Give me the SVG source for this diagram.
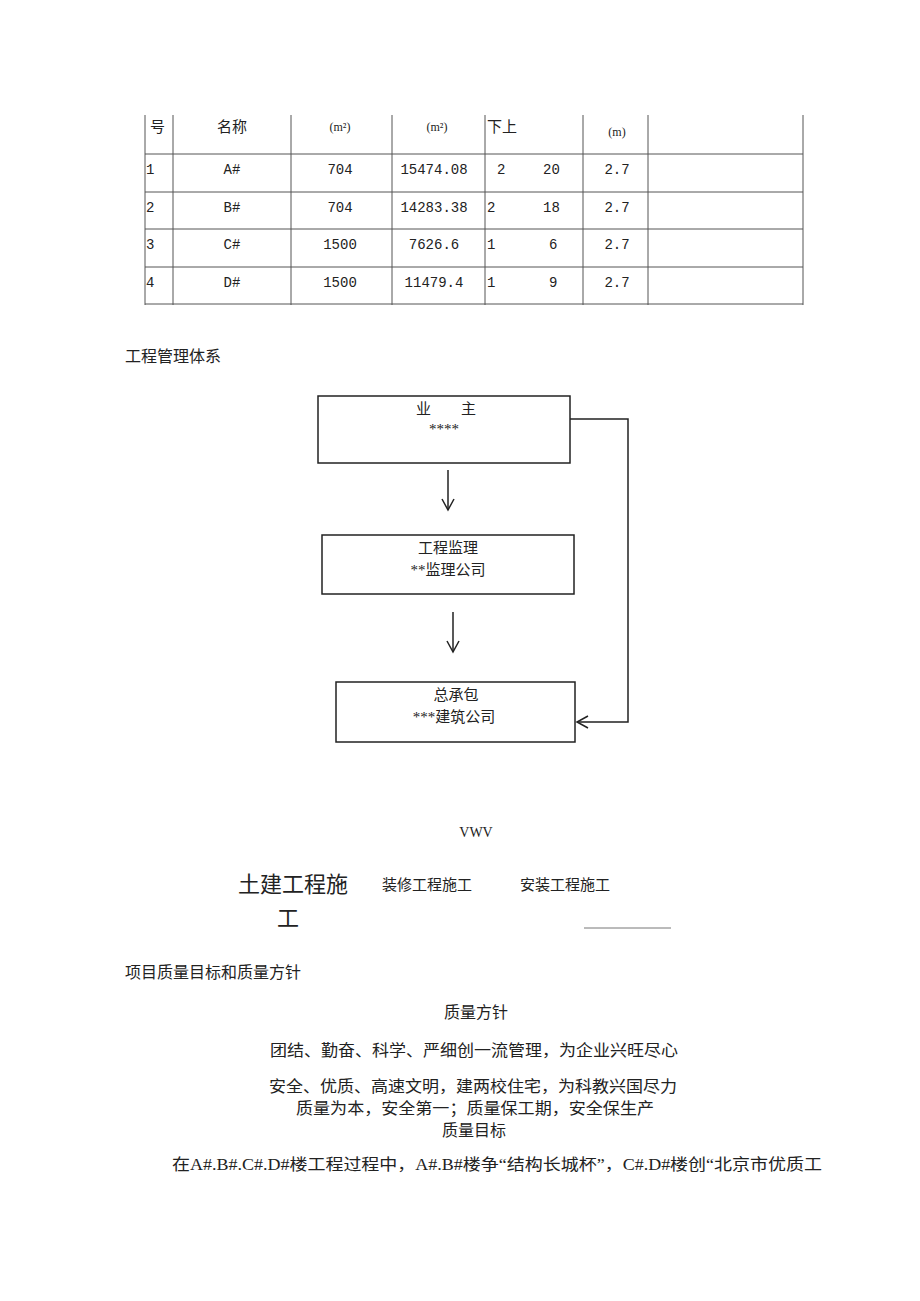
<svg xmlns="http://www.w3.org/2000/svg" width="920" height="1301" viewBox="0 0 920 1301">
<style>
text{font-family:"Liberation Serif","Noto Sans CJK SC",serif;font-size:15px;fill:#222}
.c{text-anchor:middle}
.n text{font-family:"Liberation Mono","Noto Sans CJK SC",monospace;font-size:14px}
text.p{font-size:16px}
.t line{stroke:#555;stroke-width:1}
.b{fill:none;stroke:#222;stroke-width:1.5}
.l{fill:none;stroke:#222;stroke-width:1.5}
</style>
<defs><marker id="a" markerWidth="14" markerHeight="14" refX="12" refY="7" orient="auto" markerUnits="userSpaceOnUse"><path d="M1,1 L12,7 L1,13" fill="none" stroke="#222" stroke-width="1.5"/></marker></defs>
<rect width="920" height="1301" fill="#fff"/>
<g class="t">
<line x1="145" y1="115" x2="145" y2="305"/><line x1="173" y1="115" x2="173" y2="305"/><line x1="291" y1="115" x2="291" y2="305"/><line x1="392" y1="115" x2="392" y2="305"/><line x1="485" y1="115" x2="485" y2="305"/><line x1="583" y1="115" x2="583" y2="305"/><line x1="648" y1="115" x2="648" y2="305"/><line x1="803" y1="115" x2="803" y2="305"/>
<line x1="145" y1="154" x2="803" y2="154"/><line x1="145" y1="192" x2="803" y2="192"/><line x1="145" y1="229" x2="803" y2="229"/><line x1="145" y1="267" x2="803" y2="267"/><line x1="145" y1="304" x2="803" y2="304"/>
</g>
<g id="table-text">
<text x="150" y="132">号</text><text x="232" y="132" class="c">名称</text>
<text x="340" y="131" class="c" style="font-size:12px">(m²)</text><text x="437" y="131" class="c" style="font-size:12px">(m²)</text>
<text x="487" y="132">下上</text><text x="617" y="136" class="c" style="font-size:12px">(m)</text>
<g class="n">
<text x="146" y="174">1</text><text x="232" y="174" class="c">A#</text><text x="340" y="174" class="c">704</text><text x="434" y="174" class="c">15474.08</text><text x="497" y="174">2</text><text x="543" y="174">20</text><text x="617" y="174" class="c">2.7</text>
<text x="146" y="212">2</text><text x="232" y="212" class="c">B#</text><text x="340" y="212" class="c">704</text><text x="434" y="212" class="c">14283.38</text><text x="487" y="212">2</text><text x="543" y="212">18</text><text x="617" y="212" class="c">2.7</text>
<text x="146" y="249">3</text><text x="232" y="249" class="c">C#</text><text x="340" y="249" class="c">1500</text><text x="434" y="249" class="c">7626.6</text><text x="487" y="249">1</text><text x="549" y="249">6</text><text x="617" y="249" class="c">2.7</text>
<text x="146" y="287">4</text><text x="232" y="287" class="c">D#</text><text x="340" y="287" class="c">1500</text><text x="434" y="287" class="c">11479.4</text><text x="487" y="287">1</text><text x="549" y="287">9</text><text x="617" y="287" class="c">2.7</text>
</g>
</g>
<text x="125" y="362" class="p">工程管理体系</text>
<g id="owner"><rect class="b" x="318" y="396" width="252" height="67"/><text x="446" y="414" class="c">业　　主</text><text x="444" y="434" class="c">****</text></g>
<g id="supervisor"><rect class="b" x="322" y="535" width="252" height="59"/><text x="448" y="553" class="c">工程监理</text><text x="448" y="575" class="c">**监理公司</text></g>
<g id="contractor"><rect class="b" x="336" y="682" width="239" height="60"/><text x="456" y="700" class="c">总承包</text><text x="454" y="722" class="c">***建筑公司</text></g>
<g id="connectors">
<line class="l" x1="448" y1="470" x2="448" y2="510" marker-end="url(#a)"/>
<line class="l" x1="453" y1="612" x2="453" y2="652" marker-end="url(#a)"/>
<polyline class="l" points="570,419 628,419 628,722 577,722" marker-end="url(#a)"/>
</g>
<text x="476" y="837" class="c" style="font-size:14px">VWV</text>
<text x="238" y="892" style="font-size:22px">土建工程施</text><text x="277" y="926" style="font-size:22px">工</text>
<text x="382" y="890">装修工程施工</text><text x="520" y="890">安装工程施工</text>
<line x1="584" y1="928" x2="671" y2="928" stroke="#777" stroke-width="1"/>
<text x="125" y="978" class="p">项目质量目标和质量方针</text>
<text x="476" y="1018" class="c p">质量方针</text>
<text x="474" y="1056" class="c p" textLength="408" lengthAdjust="spacingAndGlyphs">团结、勤奋、科学、严细创一流管理，为企业兴旺尽心</text>
<text x="473" y="1092" class="c p" textLength="408" lengthAdjust="spacingAndGlyphs">安全、优质、高速文明，建两校住宅，为科教兴国尽力</text>
<text x="475" y="1114" class="c p" textLength="358" lengthAdjust="spacingAndGlyphs">质量为本，安全第一；质量保工期，安全保生产</text>
<text x="474" y="1136" class="c p">质量目标</text>
<text x="172" y="1170" class="p" textLength="650" lengthAdjust="spacingAndGlyphs">在A#.B#.C#.D#楼工程过程中，A#.B#楼争“结构长城杯”，C#.D#楼创“北京市优质工</text>
</svg>
